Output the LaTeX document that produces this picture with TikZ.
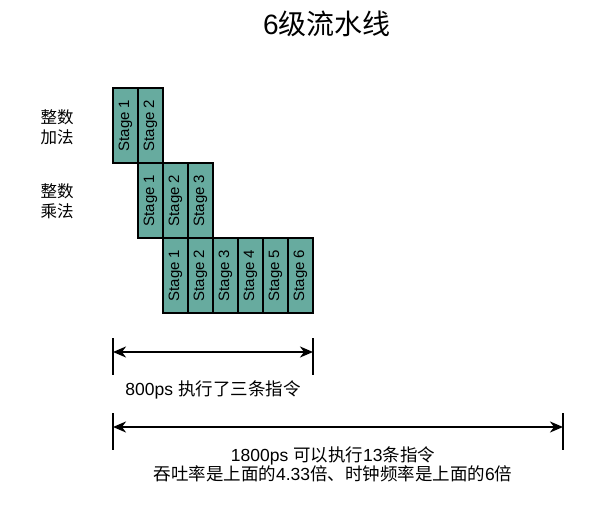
\documentclass[tikz,border=0pt]{standalone}
\usepackage{fontspec}
\setmainfont{Liberation Sans}
\newfontfamily\cjk{Noto Sans CJK SC}
\usetikzlibrary{arrows.meta,positioning}
\definecolor{stageTeal}{HTML}{67AB9F}
\tikzset{
  stagebox/.style={
    draw=black,
    fill=stageTeal,
    line width=2pt,
    minimum width=25pt,
    minimum height=75pt,
    inner sep=0pt,
    outer sep=0pt,
    font=\fontsize{15}{17}\selectfont
  },
  rowlabel/.style={
    align=center,
    font=\fontsize{16.5}{20}\selectfont\cjk
  },
  dimbar/.style={
    line width=2pt
  },
  dimarrow/.style={
    {Stealth[length=13pt,width=11pt,inset=4pt]}-{Stealth[length=13pt,width=11pt,inset=4pt]},
    line width=2pt
  },
  dimtext/.style={
    align=center,
    font=\fontsize{17.5}{19}\selectfont
  }
}

\begin{document}
\begin{tikzpicture}[x=1pt,y=-1pt]
\useasboundingbox (0,0) rectangle (607,511);

\node[font=\fontsize{28}{30}\selectfont] (title) at (327,24) {6{\cjk 级流水线}};

% integer add: two stages
\node[stagebox] (add1) at (125.5,125.5) {\rotatebox{90}{Stage 1}};
\node[stagebox, right=0pt of add1] (add2) {\rotatebox{90}{Stage 2}};

% integer multiply: three stages
\node[stagebox, below=0pt of add2] (mul1) {\rotatebox{90}{Stage 1}};
\foreach \j [remember=\j as \k (initially 1)] in {2,3}
  \node[stagebox, right=0pt of mul\k] (mul\j) {\rotatebox{90}{Stage \j}};

% six stage pipeline
\node[stagebox, below=0pt of mul2] (pipe1) {\rotatebox{90}{Stage 1}};
\foreach \j [remember=\j as \k (initially 1)] in {2,...,6}
  \node[stagebox, right=0pt of pipe\k] (pipe\j) {\rotatebox{90}{Stage \j}};

\node[rowlabel] (addlabel) at (57,127) {整数\\加法};
\node[rowlabel] (mullabel) at (57,201) {整数\\乘法};

% 800ps span
\coordinate (shortTL) at (113,338);
\coordinate (shortBL) at (113,375);
\coordinate (shortTR) at (313,338);
\coordinate (shortBR) at (313,375);
\coordinate (shortL) at (113,352);
\coordinate (shortR) at (313,352);
\draw[dimbar] (shortTL) -- (shortBL);
\draw[dimbar] (shortTR) -- (shortBR);
\draw[dimarrow] (shortL) -- (shortR);
\node[dimtext] (shorttext) at (213,390) {800ps {\cjk 执行了三条指令}};

% 1800ps span
\coordinate (longTL) at (113,413);
\coordinate (longBL) at (113,450);
\coordinate (longTR) at (563,413);
\coordinate (longBR) at (563,450);
\coordinate (longL) at (113,427);
\coordinate (longR) at (563,427);
\draw[dimbar] (longTL) -- (longBL);
\draw[dimbar] (longTR) -- (longBR);
\draw[dimarrow] (longL) -- (longR);
\node[dimtext] (longtext) at (333,464)
  {1800ps {\cjk 可以执行}13{\cjk 条指令}\\
   {\cjk 吞吐率是上面的}4.33{\cjk 倍、时钟频率是上面的}6{\cjk 倍}};
\end{tikzpicture}
\end{document}
